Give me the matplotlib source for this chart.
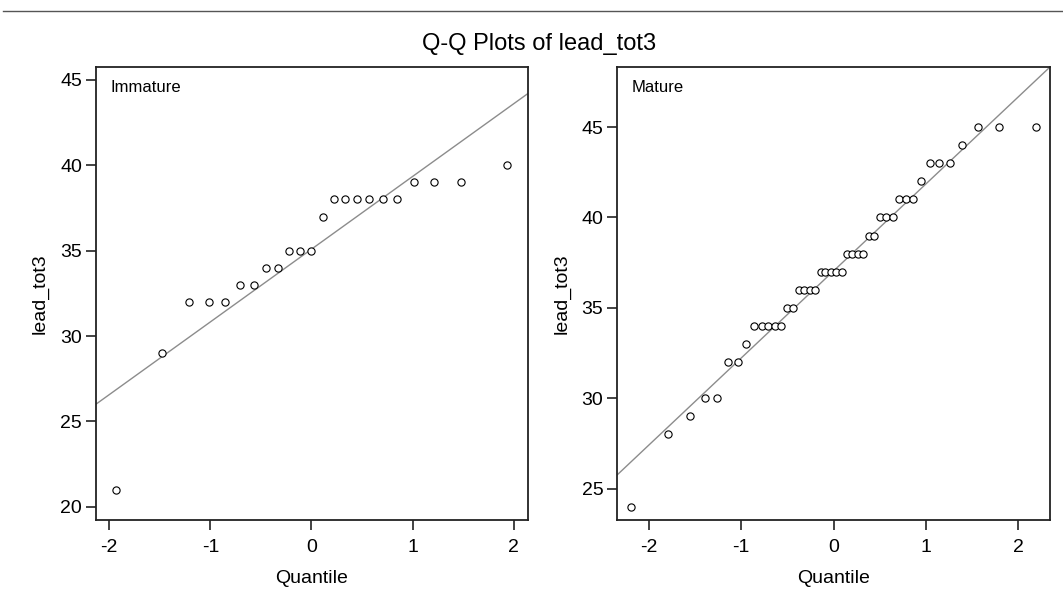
import numpy as np
import matplotlib
matplotlib.use("Agg")
import matplotlib.pyplot as plt
from matplotlib.lines import Line2D

plt.rcParams['font.family'] = ['Liberation Sans', 'DejaVu Sans']
plt.rcParams['axes.unicode_minus'] = False

title = "Q-Q Plots of lead_tot3"
panel_names = ["Immature", "Mature"]
x_label = "Quantile"
y_label = "lead_tot3"

# Immature group: theoretical normal quantiles (read) and observed values
imm_quantiles = [-1.93, -1.48, -1.21, -1.01, -0.85, -0.71, -0.57, -0.45, -0.33, -0.22, -0.11, 0.00,
                 0.11, 0.22, 0.33, 0.45, 0.57, 0.71, 0.85, 1.01, 1.21, 1.48, 1.93]
imm_values = [21, 29, 32, 32, 32, 33, 33, 34, 34, 35, 35, 35,
              37, 38, 38, 38, 38, 38, 38, 39, 39, 39, 40]

# Mature group
mat_quantiles = [-2.19, -1.79, -1.56, -1.39, -1.26, -1.14, -1.04, -0.95, -0.86, -0.78, -0.71,
                 -0.64, -0.57, -0.50, -0.44, -0.38, -0.32, -0.26, -0.20, -0.14, -0.09, -0.03,
                 0.03, 0.09, 0.14, 0.20, 0.26, 0.32, 0.38, 0.44, 0.50, 0.57, 0.64,
                 0.71, 0.78, 0.86, 0.95, 1.04, 1.14, 1.26, 1.39, 1.56, 1.79, 2.19]
mat_values = [24, 28, 29, 30, 30, 32, 32, 33, 34, 34, 34,
              34, 34, 35, 35, 36, 36, 36, 36, 37, 37, 37,
              37, 37, 38, 38, 38, 38, 39, 39, 40, 40, 40,
              41, 41, 41, 42, 43, 43, 43, 44, 45, 45, 45]

x_ticks = [-2, -1, 0, 1, 2]
y_ticks = [20, 25, 30, 35, 40, 45]
xlims = [(-2.13, 2.14), (-2.343, 2.343)]
ylims = [(19.22, 45.76), (23.27, 48.32)]

W, H = 1063, 602
fig = plt.figure(figsize=(W / 100, H / 100), dpi=100)

# top rule
fig.add_artist(Line2D([3 / W, 1.0], [1 - 11 / H, 1 - 11 / H], color="#555555", lw=1.0,
                      transform=fig.transFigure))
fig.text(539 / W, 1 - 44 / H, title, ha="center", va="center", fontsize=17, color="black")

boxes = [(96, 528), (617.3, 1050)]
top, bottom = 67, 520
groups = [(imm_quantiles, imm_values), (mat_quantiles, mat_values)]

for i, ((x0, x1), (q, v)) in enumerate(zip(boxes, groups)):
    ax = fig.add_axes([x0 / W, 1 - bottom / H, (x1 - x0) / W, (bottom - top) / H])
    vals = np.array(v, dtype=float)
    mu, sd = vals.mean(), vals.std(ddof=1)
    ax.axline((0, mu), slope=sd, color="#8c8c8c", lw=1.0, zorder=1)
    ax.plot(q, v, linestyle="none", marker="o", markersize=5.2, markerfacecolor="white",
            markeredgecolor="black", markeredgewidth=0.8, zorder=2)
    ax.set_xlim(*xlims[i])
    ax.set_ylim(*ylims[i])
    ax.set_xticks(x_ticks)
    ax.set_yticks([t for t in y_ticks if ylims[i][0] <= t <= ylims[i][1]])
    ax.tick_params(axis="both", direction="out", length=7, width=1.2, labelsize=14,
                   color="#222222", labelcolor="black")
    ax.tick_params(axis="x", pad=7)
    ax.tick_params(axis="y", pad=3)
    for s in ax.spines.values():
        s.set_linewidth(1.3)
        s.set_color("#222222")
    ax.set_xlabel(x_label, fontsize=14, labelpad=10)
    ax.set_ylabel(y_label, fontsize=14, labelpad=8)
    ax.text(14.5 / (x1 - x0), 1 - 20 / (bottom - top), panel_names[i], transform=ax.transAxes,
            ha="left", va="center", fontsize=12)

fig.savefig("out.png", dpi=100)
